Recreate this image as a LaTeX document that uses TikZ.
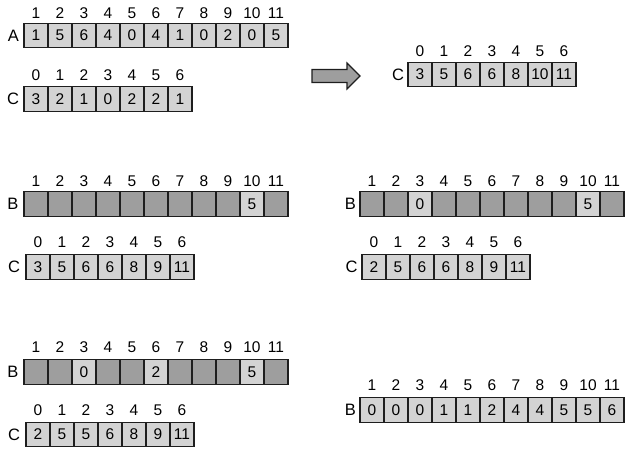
\documentclass[tikz,border=0pt]{standalone}
\usepackage{fontspec}
\setmainfont{Liberation Sans}
\definecolor{lt}{RGB}{211,211,211}
\definecolor{dk}{RGB}{158,158,158}
\definecolor{edge}{RGB}{30,30,30}
\tikzset{
  cell/.style={draw=edge, line width=1.4pt, minimum width=24pt, minimum height=24.5pt, inner sep=0pt, outer sep=0pt, font=\fontsize{15.5}{17}\selectfont},
  idx/.style={inner sep=0pt, font=\fontsize{15.5}{17}\selectfont},
  nm/.style={inner sep=0pt, font=\fontsize{16.5}{18}\selectfont},
}
\begin{document}
\begin{tikzpicture}[x=1pt,y=-1pt]
\useasboundingbox (0,0) rectangle (625,457);
% top-left A
\node[nm] (An) at (13.5,36) {A};
\foreach \v [count=\i] in {1,5,6,4,0,4,1,0,2,0,5}{
  \node[cell,fill=lt] (A\i) at ({24+(\i-0.5)*24},35.5) {\v};
  \node[idx] (Al\i) at ({24+(\i-0.5)*24},13) {\i};
}
% top-left C
\node[nm] (C1n) at (13,99) {C};
\foreach \v [count=\i from 0] in {3,2,1,0,2,2,1}{
  \node[cell,fill=lt] (Ca\i) at ({24+(\i+0.5)*24},99) {\v};
  \node[idx] (Cal\i) at ({24+(\i+0.5)*24},75) {\i};
}
% arrow
\draw[draw=edge, line width=1.2pt, fill=dk] (312,69.5) -- (347,69.5) -- (347,63) -- (360,76) -- (347,89) -- (347,82.5) -- (312,82.5) -- cycle;
% top-right C
\node[nm] (C2n) at (398,75) {C};
\foreach \v [count=\i from 0] in {3,5,6,6,8,10,11}{
  \node[cell,fill=lt] (Cb\i) at ({408+(\i+0.5)*24},74.5) {\v};
  \node[idx] (Cbl\i) at ({408+(\i+0.5)*24},51) {\i};
}
% mid-left B
\node[nm] (B1n) at (13,204) {B};
\foreach \c/\v [count=\i] in {dk/{},dk/{},dk/{},dk/{},dk/{},dk/{},dk/{},dk/{},dk/{},lt/5,dk/{}}{
  \node[cell,fill=\c] (Ba\i) at ({24+(\i-0.5)*24},204) {\v};
  \node[idx] (Bal\i) at ({24+(\i-0.5)*24},181) {\i};
}
% mid-left C
\node[nm] (C3n) at (14,267) {C};
\foreach \v [count=\i from 0] in {3,5,6,6,8,9,11}{
  \node[cell,fill=lt] (Cc\i) at ({26+(\i+0.5)*24},267) {\v};
  \node[idx] (Ccl\i) at ({26+(\i+0.5)*24},242) {\i};
}
% mid-right B
\node[nm] (B2n) at (350.5,204) {B};
\foreach \c/\v [count=\i] in {dk/{},dk/{},lt/0,dk/{},dk/{},dk/{},dk/{},dk/{},dk/{},lt/5,dk/{}}{
  \node[cell,fill=\c] (Bb\i) at ({360+(\i-0.5)*24},204) {\v};
  \node[idx] (Bbl\i) at ({360+(\i-0.5)*24},181) {\i};
}
% mid-right C
\node[nm] (C4n) at (351.5,267) {C};
\foreach \v [count=\i from 0] in {2,5,6,6,8,9,11}{
  \node[cell,fill=lt] (Cd\i) at ({362+(\i+0.5)*24},267) {\v};
  \node[idx] (Cdl\i) at ({362+(\i+0.5)*24},242) {\i};
}
% bottom-left B
\node[nm] (B3n) at (13,372) {B};
\foreach \c/\v [count=\i] in {dk/{},dk/{},lt/0,dk/{},dk/{},lt/2,dk/{},dk/{},dk/{},lt/5,dk/{}}{
  \node[cell,fill=\c] (Bc\i) at ({24+(\i-0.5)*24},372) {\v};
  \node[idx] (Bcl\i) at ({24+(\i-0.5)*24},347) {\i};
}
% bottom-left C
\node[nm] (C5n) at (14,435) {C};
\foreach \v [count=\i from 0] in {2,5,5,6,8,9,11}{
  \node[cell,fill=lt] (Ce\i) at ({26+(\i+0.5)*24},434.5) {\v};
  \node[idx] (Cel\i) at ({26+(\i+0.5)*24},410) {\i};
}
% bottom-right B
\node[nm] (B4n) at (350.5,410) {B};
\foreach \v [count=\i] in {0,0,0,1,1,2,4,4,5,5,6}{
  \node[cell,fill=lt] (Bd\i) at ({360+(\i-0.5)*24},410) {\v};
  \node[idx] (Bdl\i) at ({360+(\i-0.5)*24},385) {\i};
}
\end{tikzpicture}
\end{document}
